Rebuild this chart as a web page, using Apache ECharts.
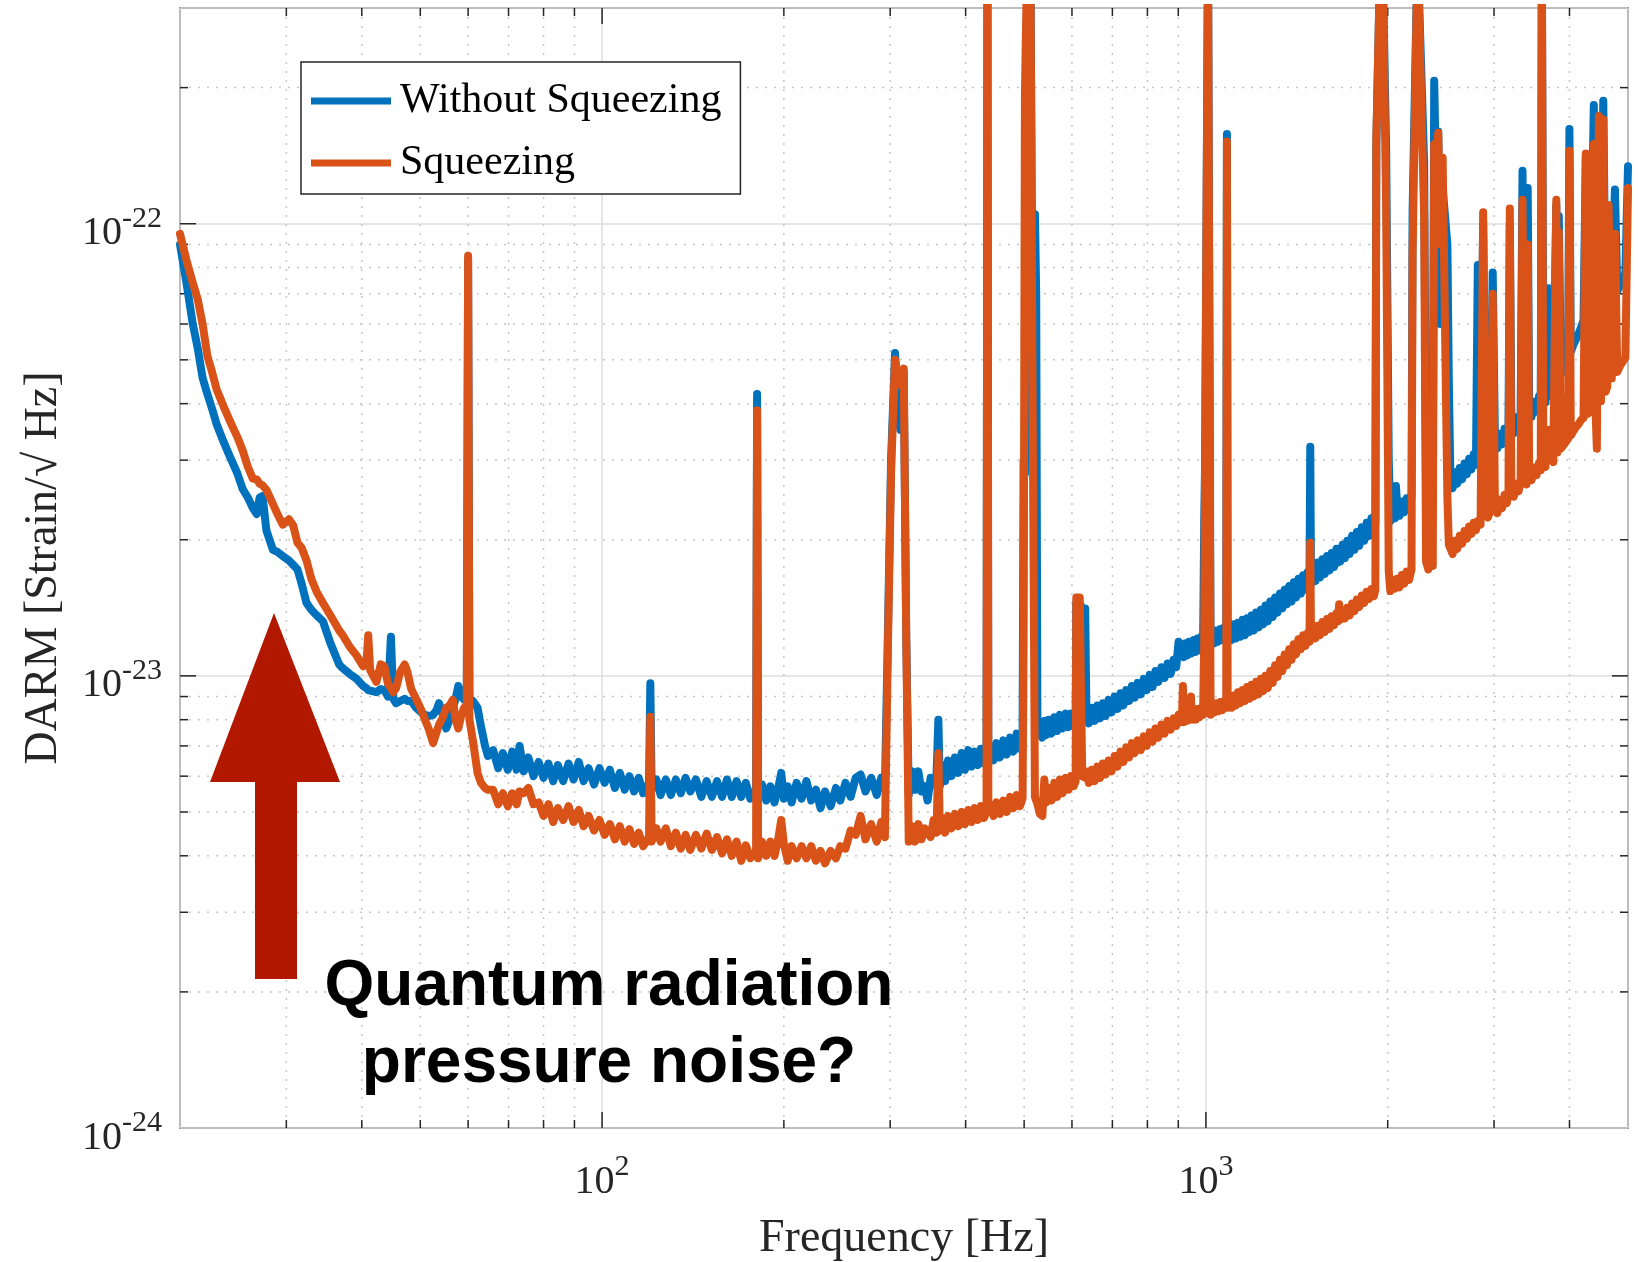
<!DOCTYPE html>
<html>
<head>
<meta charset="utf-8">
<script src="https://cdn.jsdelivr.net/npm/echarts@6/dist/echarts.min.js"></script>
<style>
html,body{margin:0;padding:0;background:#ffffff;}
#chart{width:1638px;height:1262px;}
</style>
</head>
<body>
<div id="chart"></div>
<script>
// Frequency grid [Hz]
const freqHz = [
  20, 20.5, 21.0, 21.4, 21.8, 22.2, 22.6, 23.0, 23.6, 24.2,
  24.9, 25.4, 25.9, 26.4, 26.8, 27.1, 27.4, 27.8, 28.5, 29.0,
  29.6, 30.3, 30.8, 31.3, 31.8, 32.4, 33.0, 33.7, 34.5, 35.5,
  36.7, 37.2, 38.2, 39.2, 40.2, 40.7, 41.0, 41.3, 42.3, 43.0,
  43.6, 44.2, 44.7, 45.1, 45.6, 46.3, 47.1, 47.6, 48.3, 49.2,
  50.2, 50.9, 51.7, 52.5, 53.2, 53.7, 54.5, 55.2, 55.9, 56.6,
  57.2, 57.8, 58.5, 59.1, 59.7, 60.0, 60.3, 61.1, 62.2, 63.0,
  64.0, 64.7, 66, 67.3, 68.5, 69.8, 71, 72.2, 73, 74.2,
  75.5, 77, 78.5, 80, 81.5, 83, 84.5, 86.2, 88, 89.7,
  91.5, 93.2, 95, 97, 99, 101, 103, 105, 107, 109,
  111, 113, 115, 117, 119.6, 120.2, 120.8, 123, 125, 127.5,
  130, 132.5, 135, 137.5, 140, 143, 146, 149, 152, 155,
  158, 161, 164, 167, 170, 173, 176, 179.9, 180.6, 181.3,
  184, 187, 190, 193, 196, 198, 200, 203, 206, 210,
  214, 218, 222, 226, 230, 234, 239, 244, 248, 253,
  258, 263, 268, 273, 279, 285, 290, 294, 297.2, 301,
  305.6, 309, 312, 315.9, 319, 322, 326, 330, 334, 338,
  342, 346, 350, 354, 358, 360.5, 362.5, 366, 370, 374,
  379, 384, 389, 394, 399, 404, 409, 414, 419, 424,
  429, 433.2, 434.7, 436.2, 440, 445, 450, 456, 462, 468,
  474, 480, 486, 492, 497, 499, 501.5, 506, 512, 516,
  521, 523.5, 526, 531, 536, 540, 544, 549, 555, 561,
  567, 573, 579, 586, 592, 598, 604, 608.5, 610, 618,
  624, 631, 634, 640, 647, 654, 661, 668, 675, 682,
  690, 698, 706, 714, 722, 730, 738, 746, 754, 762,
  771, 780, 789, 798, 807, 816, 825, 834, 844, 854,
  864, 874, 884, 893, 901, 908, 913, 916, 919, 925,
  931, 938, 944.5, 948, 955, 962, 969, 976, 983, 989,
  993.6, 997, 1008, 1014, 1018, 1025, 1033, 1041, 1049, 1057,
  1065, 1073, 1080.5, 1083.4, 1086.3, 1094, 1103, 1112, 1121, 1130,
  1140, 1150, 1160, 1170, 1180, 1190, 1200, 1211, 1222, 1233,
  1244, 1255, 1266, 1278, 1290, 1302, 1314, 1326, 1338, 1350,
  1362, 1374, 1386, 1398, 1410, 1423, 1436, 1449, 1462, 1475,
  1484, 1488.6, 1493, 1505, 1518, 1531, 1545, 1559, 1573, 1587,
  1601, 1615, 1630, 1645, 1655, 1662, 1669, 1684, 1699, 1714,
  1730, 1746, 1762, 1778, 1795, 1812, 1829, 1846, 1863, 1880,
  1897, 1908, 1915, 1945, 1960, 1988, 2008, 2020, 2038, 2056,
  2064, 2073, 2092, 2111, 2130, 2150, 2170, 2190, 2199, 2241,
  2298, 2315, 2335, 2355, 2375, 2388, 2406, 2425, 2445, 2466,
  2511, 2525, 2540, 2562, 2585, 2608, 2632, 2656, 2680, 2704,
  2728, 2752, 2776, 2800, 2820, 2835, 2850, 2878, 2905, 2930,
  2958, 2985, 3010, 3038, 3066, 3094, 3122, 3150, 3170, 3186,
  3205, 3235, 3265, 3295, 3320, 3344, 3370, 3395, 3411, 3430,
  3462, 3495, 3528, 3562, 3585, 3600, 3620, 3650, 3693, 3720,
  3760, 3804, 3820, 3840, 3870, 3910, 3950, 3980, 3999, 4020,
  4060, 4100, 4140, 4180, 4220, 4257, 4290, 4330, 4360, 4389,
  4415, 4440, 4474, 4510, 4550, 4590, 4620, 4643, 4700, 4757,
  4800, 4850, 4900, 4950, 5000
];

// DARM amplitude without squeezing, in units of 1e-24 strain/sqrt(Hz)
const withoutSqueezing = [
  90, 74, 60, 53, 45.6, 42, 39, 36, 33, 30.5,
  28, 25.9, 24.8, 23.5, 22.8, 24.8, 25, 21, 19, 18.8,
  18.4, 18.0, 17.6, 17.2, 16.0, 14.5, 14.0, 13.6, 13.2, 11.8,
  10.6, 10.4, 10.1, 9.85, 9.5, 9.4, 9.3, 9.3, 9.2, 9.35,
  9.3, 9.0, 12.2, 8.9, 8.7, 8.8, 8.9, 8.8, 8.8, 8.5,
  8.3, 8.2, 8.15, 8.2, 8.4, 8.7, 8.2, 7.65, 8.0, 8.5,
  8.9, 9.5, 9.0, 8.85, 8.8, 83, 8.9, 8.8, 8.5, 7.75,
  7.0, 6.65, 6.85, 6.25, 6.75, 6.2, 6.8, 6.2, 7.0, 6.15,
  6.6, 6.0, 6.45, 5.95, 6.4, 5.85, 6.35, 5.85, 6.4, 5.9,
  6.45, 5.85, 6.25, 5.75, 6.25, 5.8, 6.2, 5.65, 6.1, 5.6,
  6.0, 5.55, 5.95, 5.5, 5.8, 9.63, 5.6, 5.9, 5.45, 5.9,
  5.45, 5.9, 5.5, 5.95, 5.55, 5.9, 5.4, 5.85, 5.4, 5.85,
  5.4, 5.9, 5.4, 5.85, 5.4, 5.8, 5.35, 5.6, 42, 5.5,
  5.75, 5.3, 5.7, 5.25, 5.7, 6.1, 5.35, 5.7, 5.25, 5.8,
  5.35, 5.85, 5.3, 5.6, 5.1, 5.55, 5.15, 5.65, 5.3, 5.8,
  5.4, 5.95, 6.05, 5.55, 5.95, 5.45, 5.95, 5.6, 11.8, 30,
  51.8, 40, 35, 47, 12, 5.45, 6.15, 5.6, 6.15, 5.55,
  5.7, 5.3, 5.95, 5.75, 6.05, 8.0, 5.7, 6.35, 5.85, 6.5,
  6.0, 6.6, 6.1, 6.75, 6.2, 6.85, 6.3, 6.8, 6.35, 6.9,
  6.4, 6.7, 400, 6.6, 7.0, 6.5, 7.1, 6.6, 7.2, 6.7,
  7.3, 6.8, 7.45, 6.9, 7.3, 30, 28, 400, 400, 60,
  105, 70, 7.4, 7.75, 7.3, 7.95, 7.4, 8.0, 7.45, 8.1,
  7.55, 8.2, 7.65, 8.25, 7.7, 8.25, 7.75, 8.0, 14.5, 14.5,
  14.1, 14.1, 8.3, 7.85, 8.5, 7.95, 8.6, 8.05, 8.7, 8.15,
  8.85, 8.3, 9.0, 8.45, 9.15, 8.6, 9.3, 8.8, 9.5, 8.95,
  9.65, 9.1, 9.85, 9.3, 10.05, 9.45, 10.25, 9.7, 10.45, 9.9,
  10.65, 10.1, 10.85, 10.45, 11.9, 11.1, 11.7, 11.2, 11.0, 11.8,
  11.1, 11.9, 11.2, 11.1, 12.0, 11.3, 12.1, 11.4, 12.2, 11.6,
  22, 30, 400, 400, 11.7, 12.5, 11.8, 12.6, 11.9, 12.7,
  12.0, 12.8, 12.2, 158, 12.1, 12.9, 12.0, 13.0, 12.1, 13.1,
  12.2, 13.3, 12.3, 13.4, 12.5, 13.6, 12.6, 13.8, 12.8, 14.0,
  13.0, 14.3, 13.2, 14.6, 13.5, 14.9, 13.8, 15.2, 14.1, 15.5,
  14.4, 15.8, 14.6, 16.1, 14.9, 16.4, 15.2, 16.7, 15.5, 17.0,
  15.8, 32.1, 16.0, 17.6, 16.2, 17.8, 16.5, 18.1, 16.8, 18.4,
  17.1, 18.7, 17.4, 19.1, 17.8, 18.8, 17.9, 19.5, 18.2, 19.9,
  18.6, 20.4, 19.0, 20.8, 19.4, 21.3, 19.9, 21.8, 20.4, 22.3,
  20.8, 21.8, 150, 400, 400, 147, 30, 22.0, 23.6, 22.3,
  26.3, 23.8, 22.6, 24.3, 23.0, 24.7, 23.4, 24.9, 106, 400,
  137, 25.8, 24.4, 26.2, 24.9, 207, 120, 160, 60, 120,
  90, 44.5, 27.6, 26.0, 28.2, 26.6, 28.8, 27.2, 29.5, 27.9,
  30.2, 28.6, 30.9, 29.3, 81, 31.2, 30.4, 100, 31.8, 31.2,
  32.3, 78, 33.5, 31.8, 34.3, 32.5, 35.2, 33.4, 35.7, 100,
  36.2, 34.4, 37.3, 35.5, 37.9, 131, 38.6, 36.8, 120, 39.4,
  37.4, 40.4, 38.4, 41.6, 39.6, 400, 42.3, 40.2, 72, 43.4,
  41.2, 110, 45, 104, 46.5, 47.5, 49.5, 51, 162, 52,
  54, 55.5, 57, 59, 61, 140, 62, 63, 62.5, 183,
  63.5, 60, 170, 64, 187, 66, 67, 100, 69, 119,
  71, 73, 75, 78, 134
];

// DARM amplitude with squeezing, in units of 1e-24 strain/sqrt(Hz)
const withSqueezing = [
  95, 83, 74, 68, 60, 51, 47, 43, 39.5, 36.6,
  33.7, 31.5, 29, 27.3, 27.2, 26.6, 26.4, 25.8, 24, 22.8,
  21.6, 22.2, 21.5, 19.7, 19.2, 18.0, 16.4, 15.3, 14.5, 13.6,
  12.6, 12.3, 11.6, 11.1, 10.5, 10.6, 12.3, 10.3, 9.7, 10.6,
  10.5, 9.6, 9.4, 9.2, 9.4, 10.2, 10.6, 10.2, 9.35, 8.9,
  8.4, 8.0, 7.6, 7.1, 7.5, 7.8, 8.1, 8.5, 8.6, 8.85,
  8.0, 7.65, 8.2, 8.5, 8.6, 85, 8.0, 7.2, 6.1, 5.8,
  5.65, 5.6, 5.6, 5.2, 5.5, 5.15, 5.5, 5.2, 5.55, 5.5,
  5.65, 5.2, 5.25, 4.9, 5.2, 4.75, 5.1, 4.8, 5.15, 4.75,
  5.05, 4.65, 4.9, 4.55, 4.8, 4.45, 4.7, 4.35, 4.65, 4.3,
  4.58, 4.25, 4.5, 4.2, 4.4, 8.12, 4.3, 4.6, 4.3, 4.6,
  4.2, 4.5, 4.15, 4.45, 4.12, 4.45, 4.15, 4.48, 4.12, 4.4,
  4.05, 4.35, 4.0, 4.3, 3.9, 4.22, 3.95, 4.1, 38.7, 3.95,
  4.3, 4.0, 4.3, 4.0, 4.4, 4.8, 4.25, 3.9, 4.2, 3.95,
  4.2, 3.95, 4.2, 3.9, 4.1, 3.85, 4.1, 3.95, 4.2, 4.15,
  4.55, 4.45, 4.9, 4.35, 4.7, 4.3, 4.75, 4.4, 11.0, 28,
  50, 45, 44, 47.8, 12, 4.3, 4.65, 4.3, 4.7, 4.35,
  4.6, 4.5, 4.4, 4.8, 4.5, 6.74, 4.55, 4.85, 4.5, 4.9,
  4.6, 4.95, 4.65, 5.0, 4.7, 5.05, 4.75, 5.1, 4.8, 5.15,
  4.85, 5.0, 400, 5.0, 5.2, 4.9, 5.25, 4.95, 5.3, 5.0,
  5.4, 5.1, 5.45, 5.15, 5.35, 12, 194, 400, 400, 50,
  5.4, 5.3, 5.2, 4.95, 4.9, 5.9, 5.25, 5.65, 5.3, 5.8,
  5.4, 5.9, 5.5, 5.95, 5.6, 6.0, 5.7, 5.85, 14.9, 14.9,
  6.0, 5.95, 6.15, 5.8, 6.2, 5.85, 6.3, 5.95, 6.4, 6.05,
  6.5, 6.15, 6.65, 6.3, 6.8, 6.45, 6.95, 6.6, 7.1, 6.75,
  7.2, 6.85, 7.35, 7.0, 7.5, 7.15, 7.65, 7.3, 7.8, 7.45,
  7.95, 7.6, 8.05, 7.75, 8.2, 7.9, 8.2, 9.5, 7.9, 8.3,
  7.95, 8.35, 9.0, 8.0, 8.4, 8.0, 8.45, 8.1, 8.5, 8.2,
  12, 30, 400, 400, 8.2, 8.6, 8.3, 8.7, 8.35, 8.75,
  8.4, 8.8, 8.5, 152, 8.5, 8.95, 8.5, 9.05, 8.6, 9.2,
  8.7, 9.3, 8.8, 9.45, 8.9, 9.55, 9.0, 9.7, 9.1, 9.85,
  9.25, 10.0, 9.4, 10.25, 9.65, 10.55, 9.95, 10.85, 10.25, 11.15,
  10.55, 11.45, 10.85, 11.75, 11.15, 12.05, 11.45, 12.3, 11.65, 12.45,
  11.9, 19.7, 12.1, 12.7, 12.1, 12.9, 12.3, 13.15, 12.5, 13.35,
  12.7, 13.55, 12.95, 13.75, 13.2, 14.4, 13.3, 13.95, 13.4, 14.15,
  13.6, 14.45, 13.9, 14.75, 14.2, 15.05, 14.5, 15.35, 14.8, 15.55,
  15.0, 15.5, 154, 400, 400, 111, 17, 15.4, 16.3, 15.6,
  16.0, 16.4, 15.7, 16.7, 16.0, 17.0, 16.3, 17.2, 85.5, 400,
  105, 17.9, 17.2, 18.2, 17.5, 150, 130, 159, 90, 140,
  25, 19.5, 19.4, 18.6, 19.9, 19.1, 20.4, 19.6, 20.9, 20.1,
  21.4, 20.6, 21.8, 21.0, 22, 22.1, 21.6, 106, 22.8, 22.4,
  23.1, 70, 23.9, 22.9, 24.5, 23.5, 25.1, 24.1, 25.4, 108,
  25.7, 24.9, 26.6, 25.6, 27.0, 113, 27.5, 26.5, 90, 28.1,
  27.1, 28.9, 27.8, 29.6, 28.5, 400, 30.2, 29.0, 35, 30.8,
  29.7, 113, 31.2, 96, 31.8, 32.4, 33.0, 33.5, 145, 34.0,
  34.8, 35.5, 36.0, 36.8, 37.2, 143, 38.0, 38.6, 38.8, 150,
  39.5, 31.8, 173, 40.5, 170, 42.5, 43.5, 110, 45.5, 95,
  47, 48.5, 49.5, 50.5, 120
];

const xMajorTicks = [100, 1000];
const xMinorTicks = [30, 40, 50, 60, 70, 80, 90, 200, 300, 400, 500, 600, 700, 800, 900, 2000, 3000, 4000];
const yMajorTicks = [10, 100];            // units of 1e-24 -> 1e-23, 1e-22
const yMinorTicks = [2, 3, 4, 5, 6, 7, 8, 9, 20, 30, 40, 50, 60, 70, 80, 90, 200];
const Y_UNIT_EXP = -24;

const X_MIN = 20, X_MAX = 5000, Y_MIN = 1, Y_MAX = 300;
const SERIF = "'Liberation Serif', 'Times New Roman', Times, serif";
const AXIS_COLOR = '#262626';
const BLUE = '#0072BD';
const ORANGE = '#D95319';

const chart = echarts.init(document.getElementById('chart'), null, { renderer: 'canvas' });

const richLabel = {
  b: { fontFamily: SERIF, fontSize: 40, color: AXIS_COLOR, lineHeight: 40, padding: [20, 0, 0, 0] },
  s: { fontFamily: SERIF, fontSize: 30, color: AXIS_COLOR, lineHeight: 30, verticalAlign: 'top' }
};

function powerLabel(offset) {
  return function (v) {
    const e = Math.log10(v);
    const r = Math.round(e);
    if (Math.abs(e - r) > 1e-6) return '';
    return '{b|10}{s|' + (r + offset) + '}';
  };
}

function tickSeries(values, isX, major) {
  return {
    type: 'custom',
    silent: true,
    z: 1,
    animation: false,
    data: values.map(function (v) { return isX ? [v, Y_MIN] : [X_MIN, v]; }),
    renderItem: function (params, api) {
      const cs = params.coordSys;
      const pt = api.coord([api.value(0), api.value(1)]);
      const len = major ? 16 : 8;
      const tickStyle = { stroke: AXIS_COLOR, lineWidth: 1.5 };
      const gridStyle = { stroke: '#c6c6c6', lineWidth: 1.5, lineDash: [2, 7] };
      const children = [];
      if (isX) {
        const x = pt[0], top = cs.y, bot = cs.y + cs.height;
        if (!major) children.push({ type: 'line', shape: { x1: x, y1: top, x2: x, y2: bot }, style: gridStyle });
        children.push({ type: 'line', shape: { x1: x, y1: bot, x2: x, y2: bot - len }, style: tickStyle });
        children.push({ type: 'line', shape: { x1: x, y1: top, x2: x, y2: top + len }, style: tickStyle });
      } else {
        const y = pt[1], left = cs.x, right = cs.x + cs.width;
        if (!major) children.push({ type: 'line', shape: { x1: left, y1: y, x2: right, y2: y }, style: gridStyle });
        children.push({ type: 'line', shape: { x1: left, y1: y, x2: left + len, y2: y }, style: tickStyle });
        children.push({ type: 'line', shape: { x1: right, y1: y, x2: right - len, y2: y }, style: tickStyle });
      }
      return { type: 'group', children: children };
    }
  };
}

const blueData = freqHz.map(function (f, i) { return [f, withoutSqueezing[i]]; });
const orangeData = freqHz.map(function (f, i) { return [f, withSqueezing[i]]; });

const option = {
  animation: false,
  backgroundColor: '#ffffff',
  grid: {
    left: 180, right: 10, top: 8, bottom: 134,
    containLabel: false, outerBoundsMode: 'none',
    show: true, borderColor: AXIS_COLOR, borderWidth: 1.5, backgroundColor: 'transparent'
  },
  xAxis: {
    type: 'log', logBase: 10, min: X_MIN, max: X_MAX,
    name: 'Frequency [Hz]', nameLocation: 'middle', nameGap: 88,
    nameTextStyle: { fontFamily: SERIF, fontSize: 46, color: AXIS_COLOR },
    axisLine: { show: false },
    axisTick: { show: false },
    axisLabel: { formatter: powerLabel(0), rich: richLabel, margin: 24, showMinLabel: true, showMaxLabel: true },
    splitLine: { show: true, lineStyle: { color: '#dedede', width: 1.5 } }
  },
  yAxis: {
    type: 'log', logBase: 10, min: Y_MIN, max: Y_MAX,
    name: 'DARM [Strain/\u221A Hz]', nameLocation: 'middle', nameGap: 113, nameRotate: 90,
    nameTextStyle: { fontFamily: SERIF, fontSize: 46, color: AXIS_COLOR },
    axisLine: { show: false },
    axisTick: { show: false },
    axisLabel: { formatter: powerLabel(Y_UNIT_EXP), rich: richLabel, margin: 18, showMinLabel: true, showMaxLabel: true },
    splitLine: { show: true, lineStyle: { color: '#dedede', width: 1.5 } }
  },
  legend: {
    data: ['Without Squeezing', 'Squeezing'],
    orient: 'vertical', left: 301, top: 62,
    icon: 'rect', itemWidth: 80, itemHeight: 7, itemGap: 18,
    padding: [17, 19, 9, 10],
    backgroundColor: '#ffffff', borderColor: AXIS_COLOR, borderWidth: 1.5, borderRadius: 0,
    textStyle: { fontFamily: SERIF, fontSize: 42, color: '#000000', lineHeight: 44, padding: [0, 0, 0, 4] },
    selectedMode: false,
    z: 10
  },
  series: [
    tickSeries(xMinorTicks, true, false),
    tickSeries(xMajorTicks, true, true),
    tickSeries(yMinorTicks, false, false),
    tickSeries(yMajorTicks, false, true),
    {
      name: 'Without Squeezing', type: 'line', data: blueData,
      showSymbol: false, symbol: 'none', z: 2,
      lineStyle: { color: BLUE, width: 8, cap: 'round', join: 'round' },
      itemStyle: { color: BLUE }
    },
    {
      name: 'Squeezing', type: 'line', data: orangeData,
      showSymbol: false, symbol: 'none', z: 3,
      lineStyle: { color: ORANGE, width: 8, cap: 'round', join: 'round' },
      itemStyle: { color: ORANGE }
    }
  ],
  graphic: {
    elements: [
      {
        type: 'polygon', z: 20,
        shape: { points: [[274, 613], [340, 782], [297, 782], [297, 979], [255, 979], [255, 782], [210, 782]] },
        style: { fill: '#B21800' }
      },
      {
        type: 'text', z: 20, x: 609, y: 987,
        style: { text: 'Quantum radiation', fontFamily: "'Liberation Sans', Arial, Helvetica, sans-serif", fontWeight: 'bold', fontSize: 64, fill: '#000000', align: 'center', verticalAlign: 'middle' }
      },
      {
        type: 'text', z: 20, x: 609, y: 1064,
        style: { text: 'pressure noise?', fontFamily: "'Liberation Sans', Arial, Helvetica, sans-serif", fontWeight: 'bold', fontSize: 64, fill: '#000000', align: 'center', verticalAlign: 'middle' }
      }
    ]
  }
};

chart.setOption(option);
</script>
</body>
</html>
